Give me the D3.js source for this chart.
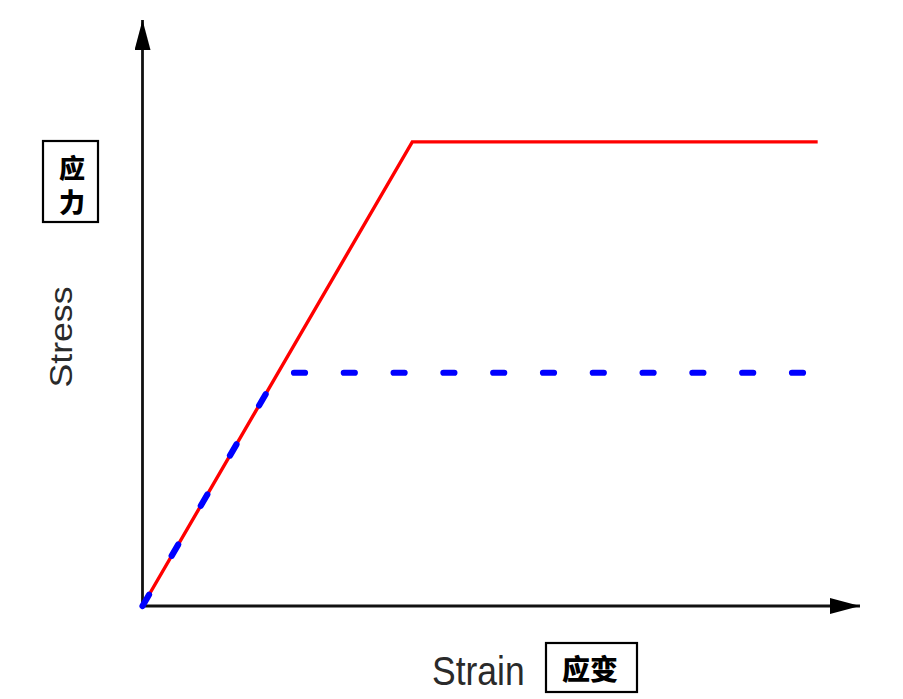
<!DOCTYPE html>
<html>
<head>
<meta charset="utf-8">
<script src="https://cdn.jsdelivr.net/npm/d3@7"></script>
<style>
  html, body { margin: 0; padding: 0; background: #fff; }
  svg { display: block; }
</style>
</head>
<body>
<svg id="chart" width="903" height="699"></svg>
<script>
// ---- data ----
const strainRed   = [0, 37.6, 94.1];   // elastic–perfectly plastic (higher yield)
const stressRed   = [0, 79.2, 79.2];
const strainBlue  = [0, 18.9];         // elastic part of lower-yield curve
const stressBlue  = [0, 39.8];
const strainBlueP = [18.9, 92.4];      // plastic plateau of lower-yield curve
const stressBlueP = [39.8, 39.8];
const axisMax     = [100, 100];        // [x max, y max]
const xTitle = "Strain", yTitle = "Stress";
const xTitleCN = "应变", yTitleCN = ["应", "力"];

// ---- scales ----
const svg = d3.select("#chart");
const x = d3.scaleLinear().domain([0, axisMax[0]]).range([142.5, 860]);
const y = d3.scaleLinear().domain([0, axisMax[1]]).range([606, 20]);

const defs = svg.append("defs");
defs.append("marker").attr("id", "arrow")
  .attr("viewBox", "0 0 30 16").attr("refX", 30).attr("refY", 8)
  .attr("markerUnits", "userSpaceOnUse")
  .attr("markerWidth", 30).attr("markerHeight", 16).attr("orient", "auto")
  .append("path").attr("d", "M0,0 L30,8 L0,16 Z").attr("fill", "#000");

// ---- axes ----
svg.append("line")
  .attr("x1", x(0) - 1.4).attr("y1", y(0)).attr("x2", x(axisMax[0])).attr("y2", y(0))
  .attr("stroke", "#111").attr("stroke-width", 2.8).attr("marker-end", "url(#arrow)");
svg.append("line")
  .attr("x1", x(0)).attr("y1", y(0) + 1.4).attr("x2", x(0)).attr("y2", y(axisMax[1]))
  .attr("stroke", "#111").attr("stroke-width", 2.8).attr("marker-end", "url(#arrow)");

// ---- curves ----
const line = d3.line().x(d => x(d[0])).y(d => y(d[1]));

svg.append("path")
  .datum(d3.zip(strainRed, stressRed))
  .attr("d", line).attr("fill", "none")
  .attr("stroke", "#ff0000").attr("stroke-width", 3.4).attr("stroke-linejoin", "miter");

svg.append("path")
  .datum(d3.zip(strainBlue, stressBlue))
  .attr("d", line).attr("fill", "none")
  .attr("stroke", "#0000ff").attr("stroke-width", 6.2)
  .attr("stroke-linecap", "round").attr("stroke-dasharray", "13,45");

svg.append("path")
  .datum(d3.zip(strainBlueP, stressBlueP))
  .attr("d", line).attr("fill", "none")
  .attr("stroke", "#0000ff").attr("stroke-width", 6.2)
  .attr("stroke-linecap", "round").attr("stroke-dasharray", "11,38.8")
  .attr("stroke-dashoffset", 33.9);

// ---- titles ----
svg.append("text")
  .attr("transform", "translate(432,685) scale(1,1.15)")
  .attr("font-family", "Liberation Sans, Arial, sans-serif")
  .attr("font-size", 35.5).attr("fill", "#2a2a2a")
  .text(xTitle);

svg.append("text")
  .attr("transform", "translate(72,337) scale(1,1.15) rotate(-90)")
  .attr("text-anchor", "middle")
  .attr("font-family", "Liberation Sans, Arial, sans-serif")
  .attr("font-size", 31).attr("fill", "#2a2a2a")
  .text(yTitle);

// Chinese boxed labels
svg.append("rect").attr("x", 43).attr("y", 141).attr("width", 55).attr("height", 81)
  .attr("fill", "none").attr("stroke", "#000").attr("stroke-width", 2.2);
svg.selectAll("text.cny").data(yTitleCN).join("text").attr("class", "cny")
  .attr("x", 72).attr("y", (d, i) => 166 + i * 34)
  .attr("text-anchor", "middle").attr("dominant-baseline", "central")
  .attr("font-family", "Noto Sans CJK SC").attr("font-weight", 900)
  .attr("font-size", 26).attr("fill", "#000")
  .text(d => d);

svg.append("rect").attr("x", 546).attr("y", 643).attr("width", 91).attr("height", 49)
  .attr("fill", "none").attr("stroke", "#000").attr("stroke-width", 2.2);
svg.append("text")
  .attr("x", 590).attr("y", 668)
  .attr("text-anchor", "middle").attr("dominant-baseline", "central")
  .attr("font-family", "Noto Sans CJK SC").attr("font-weight", 900)
  .attr("font-size", 28).attr("fill", "#000")
  .text(xTitleCN);
</script>
</body>
</html>
